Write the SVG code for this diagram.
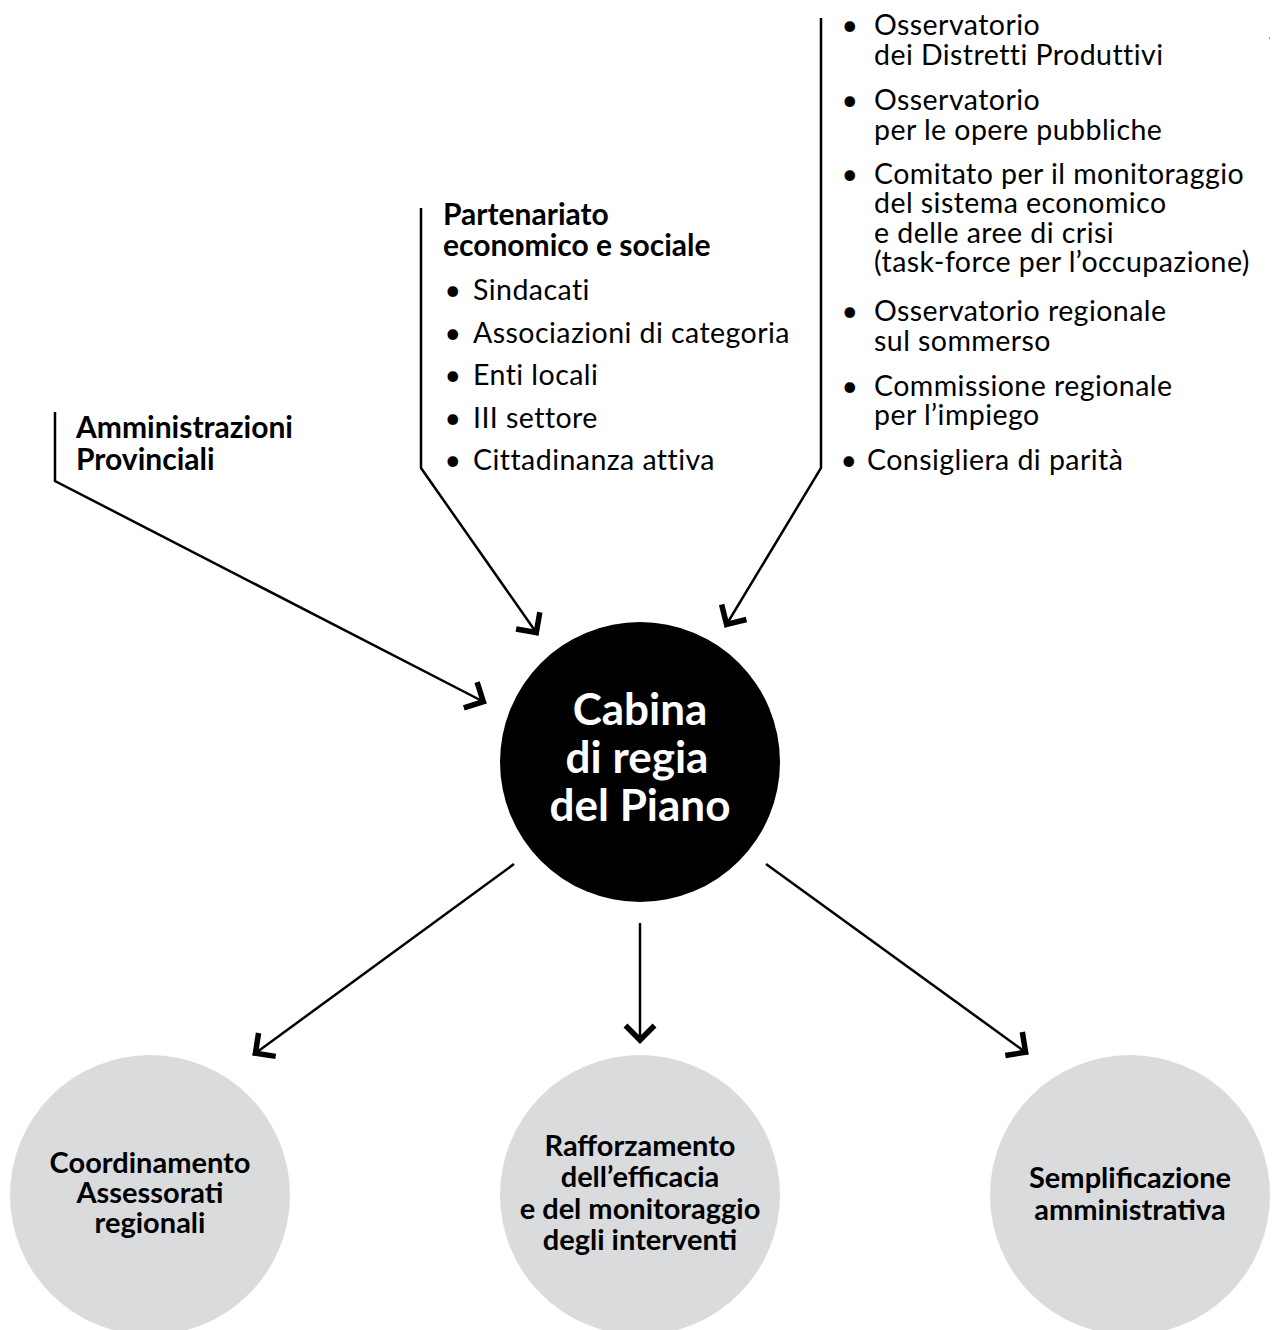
<svg xmlns="http://www.w3.org/2000/svg" width="1280" height="1330" viewBox="0 0 1280 1330">
<style>
.t{font-family:Lato,"Noto Sans","Liberation Sans",sans-serif;font-size:28.5px;letter-spacing:0.45px;fill:#000}
.b{font-weight:700;font-size:30px;letter-spacing:0}
.c{text-anchor:middle}
.w{fill:#fff;font-size:44px}
.g{font-size:29px}
.conn{fill:none;stroke:#000;stroke-width:2.5;stroke-linejoin:miter}
.sub{fill:#dadbdd}
</style>
<defs>
<marker id="ah" markerUnits="userSpaceOnUse" markerWidth="40" markerHeight="40" viewBox="-20 -20 40 40" refX="3" refY="0" orient="auto" overflow="visible">
<path d="M-14.5,-14.5 L0,0 L-14.5,14.5" fill="none" stroke="#000" stroke-width="5.5" stroke-linejoin="miter"/>
</marker>
</defs>
<rect width="1280" height="1330" fill="#fff"/>

<g id="connectors">
<polyline class="conn" points="55,412 55,481 486,703" marker-end="url(#ah)"/>
<polyline class="conn" points="421,208 421,468 538,635" marker-end="url(#ah)"/>
<polyline class="conn" points="821,18 821,468 725,627" marker-end="url(#ah)"/>
<line class="conn" x1="514" y1="864" x2="253" y2="1055" marker-end="url(#ah)"/>
<line class="conn" x1="640" y1="923" x2="640" y2="1043" marker-end="url(#ah)"/>
<line class="conn" x1="766" y1="864" x2="1028" y2="1054" marker-end="url(#ah)"/>
</g>

<g id="amministrazioni">
<text class="t b" x="76" y="438">Amministrazioni<tspan x="76" y="470">Provinciali</tspan></text>
</g>

<g id="partenariato">
<text class="t b" x="443" y="225">Partenariato<tspan x="443" y="256">economico e sociale</tspan></text>
<text class="t c" x="453" y="300">•</text><text class="t" x="473" y="300">Sindacati</text>
<text class="t c" x="453" y="343">•</text><text class="t" x="473" y="343">Associazioni di categoria</text>
<text class="t c" x="453" y="385">•</text><text class="t" x="473" y="385">Enti locali</text>
<text class="t c" x="453" y="428">•</text><text class="t" x="473" y="428">III settore</text>
<text class="t c" x="453" y="470">•</text><text class="t" x="473" y="470">Cittadinanza attiva</text>
</g>

<g id="osservatori">
<text class="t c" x="850" y="35">•</text>
<text class="t" x="874" y="35">Osservatorio<tspan x="874" y="65">dei Distretti Produttivi</tspan></text>
<text class="t c" x="850" y="110">•</text>
<text class="t" x="874" y="110">Osservatorio<tspan x="874" y="140">per le opere pubbliche</tspan></text>
<text class="t c" x="850" y="184">•</text>
<text class="t" x="874" y="184">Comitato per il monitoraggio<tspan x="874" y="213">del sistema economico</tspan><tspan x="874" y="243">e delle aree di crisi</tspan><tspan x="874" y="272">(task-force per l’occupazione)</tspan></text>
<text class="t c" x="850" y="321">•</text>
<text class="t" x="874" y="321">Osservatorio regionale<tspan x="874" y="351">sul sommerso</tspan></text>
<text class="t c" x="850" y="396">•</text>
<text class="t" x="874" y="396">Commissione regionale<tspan x="874" y="425">per l’impiego</tspan></text>
<text class="t c" x="849" y="470">•</text>
<text class="t" x="867" y="470">Consigliera di parità</text>
</g>
<rect x="1269" y="37" width="1" height="2" fill="#999"/>

<g id="cabina">
<circle cx="640" cy="762" r="140" fill="#000"/>
<text class="t b c w" x="640" y="725">Cabina<tspan x="637" y="773">di regia</tspan><tspan x="640" y="821">del Piano</tspan></text>
</g>

<g id="coordinamento">
<circle class="sub" cx="150" cy="1195" r="140"/>
<text class="t b c g" x="150" y="1173">Coordinamento<tspan x="150" y="1203">Assessorati</tspan><tspan x="150" y="1233">regionali</tspan></text>
</g>

<g id="rafforzamento">
<circle class="sub" cx="640" cy="1195" r="140"/>
<text class="t b c g" x="640" y="1156">Rafforzamento<tspan x="640" y="1187">dell’efficacia</tspan><tspan x="640" y="1219">e del monitoraggio</tspan><tspan x="640" y="1250">degli interventi</tspan></text>
</g>

<g id="semplificazione">
<circle class="sub" cx="1130" cy="1195" r="140"/>
<text class="t b c g" x="1130" y="1188">Semplificazione<tspan x="1130" y="1220">amministrativa</tspan></text>
</g>
</svg>
